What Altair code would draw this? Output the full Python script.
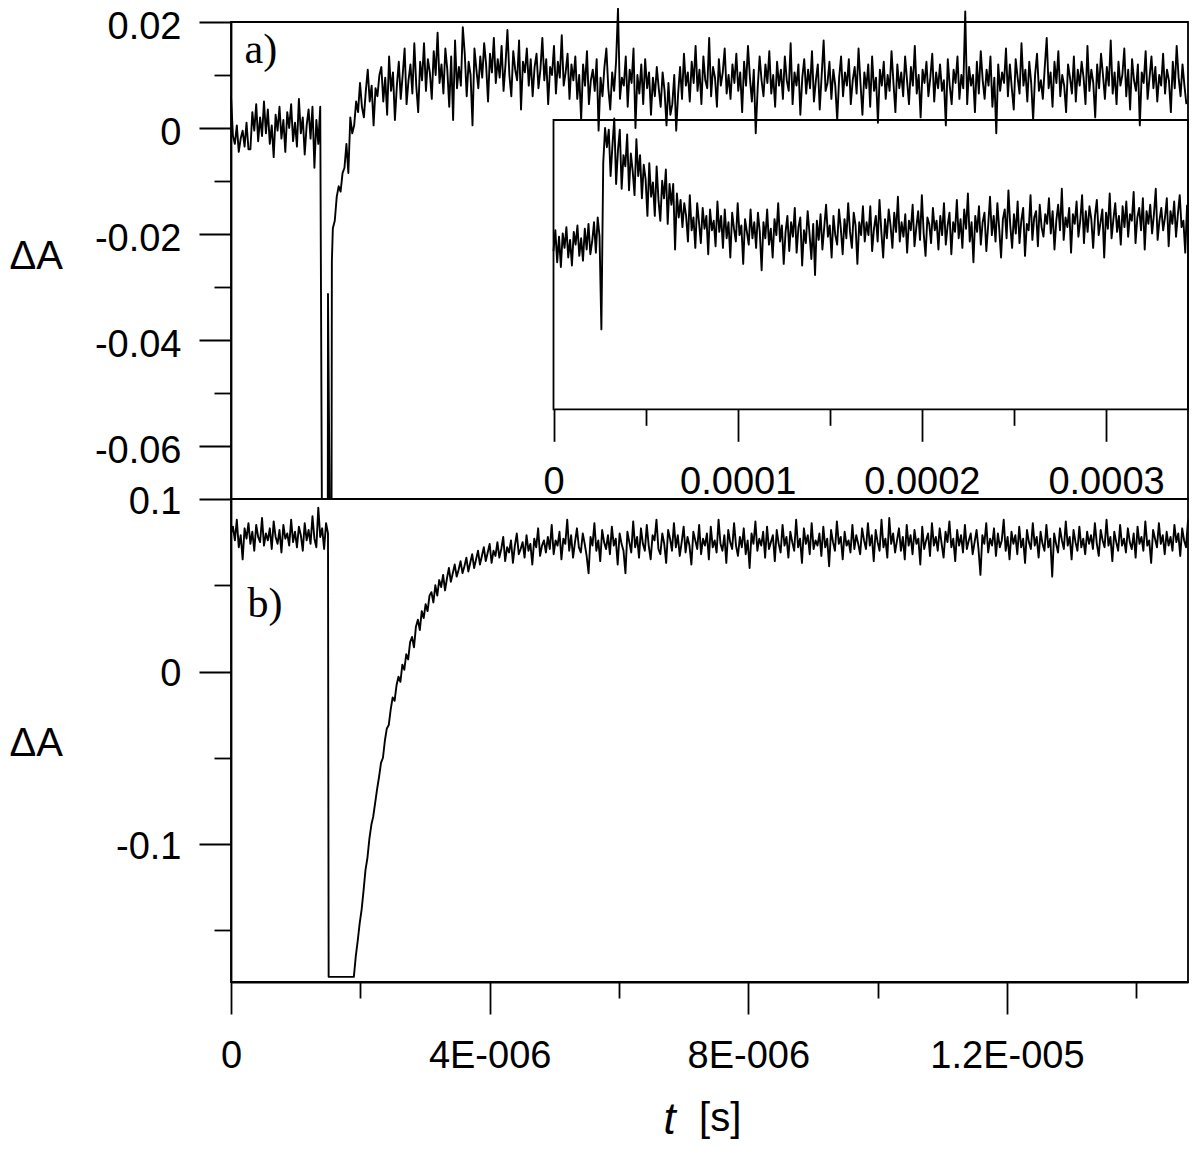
import json
import numpy as np
import pandas as pd
import altair as alt

# ---------------- data ----------------
DT = 3e-8          # sampling step of the two main traces [s]
X_MAX = 1.480e-5   # right end of the visible t axis [s]

# panel a) : ΔA x 10^4
a_pre_dA_e4 = [60, -15, -30, 5, -45, -20, -5, -35, 10, -40,
               -40, 30, -5, 45, -25, 20, -15, 50, -10, 35,
               -30, 5, -55, 25, -5, 40, -20, 15, -45, 30,
               0, 45, -25, 10, -35, 55, -10, 20, -50, 5,
               35, -20, 40, -75, 15, -30, 40]
a_spike_t = [1.405e-6, 1.497e-6, 1.500e-6, 1.525e-6, 1.555e-6, 1.560e-6]
a_spike_dA_e4 = [-700, -700, -313, -700, -700, -252]
a_post_t0 = 1.575e-6
a_post_dA_e4 = [
    -189, -175, -130, -110, -120, -85, -75, -30, -85, 20, -10, 5, 50, 30, 85, 40, 20, 70, 110, 50, 80, 5, 75, 60, 100,
    115, 50, 95, 25, 135, 70, 105, 15, 80, 125, 55, 100, 150, 45, 90, 120, 65, 160, 80, 30,
    125, 90, 160, 70, 130, 105, 55, 145, 100, 180, 85, 120, 65, 150, 110, 40, 135, 15, 165, 75,
    115, 80, 190, 140, 60, 125, 100, 5, 150, 110, 75, 135, 95, 160, 120, 50, 140, 105, 170, 85,
    130, 95, 155, 70, 120, 185, 100, 60, 145, 110, 90, 165, 35, 125, 105, 150, 80, 130, 60, 115,
    140, 75, 110, 170, 90, 130, 45, 115, 100, 155, 65, 125, 95, 175, 80, 105, 140, 55, 120, 90,
    135, 55, 100, 15, 120, 80, 145, 45, 90, 110, 70, 130, -5, 95, 60, 115, 150, 75, 35, 105,
    70, 125, 225, 55, 95, 80, 135, 40, 110, 85, 150, 0, 100, 65, 120, 45, 130, 75, 105, 25,
    95, 60, 115, 75, 40, 105, 70, 5, 85, 25, 45, 100, -5, 65, 115, 55, 140, 80, 105, 50,
    125, 85, 155, 70, 110, 45, 135, 90, 75, 170, 60, 115, 95, 40, 130, 80, 105, 150, 65, 100,
    55, 120, 85, 140, 70, 105, 30, 125, 80, 155, 95, 50, 110, -10, 75, 135, 90, 60, 120, 85,
    145, 65, 100, 40, 125, 80, 110, 55, 135, 90, 70, 160, 45, 105, 80, 120, 25, 95, 130, 65,
    110, 75, 145, 50, 90, 120, 35, 100, 165, 70, 85, 125, 55, 110, 80, 15, 95, 135, 60, 105,
    80, 130, 45, 90, 115, 65, 150, 85, 25, 105, 75, 120, 40, 135, 70, 95, 10, 110, 80, 125,
    55, 100, 70, 145, 85, 30, 120, 75, 105, 60, 135, 90, 45, 115, 80, 155, 65, 100, 20, 110,
    85, 125, 60, 95, 140, 50, 105, 75, 120, 70, 90, 5, 130, 80, 45, 110, 85, 135, 55, 100,
    75, 220, 45, 115, 80, 100, 30, 125, 65, 145, 90, 55, 110, 80, 135, 40, 95, -10, 120, 70,
    105, 85, 150, 60, 120, 75, 35, 130, 95, 65, 160, 80, 110, 50, 125, 85, 15, 100, 140, 70,
    90, 55, 115, 170, 75, 105, 40, 125, 85, 145, 60, 100, 80, 30, 120, 95, 65, 135, 50, 110,
    80, 125, 95, 45, 155, 70, 110, 85, 20, 120, 75, 140, 100, 55, 115, 80, 165, 65, 105, 45,
    125, 80, 100, 150, 60, 110, 35, 130, 90, 70, 120, 5, 105, 85, 145, 55, 95, 135, 75, 115,
    50, 100, 80, 140, 65, 110, 90, 30, 125, 75, 155, 95, 60, 120, 80, 45, 105, 130, 70, 90,
    110]

# panel b) : ΔA x 10^3
b_pre_dA_e3 = [80, 84, 76, 88, 72, 79, 65, 83, 77, 86,
               74, 81, 70, 85, 78, 75, 89, 73, 80, 76,
               83, 71, 87, 78, 74, 82, 69, 85, 77, 80,
               73, 88, 75, 81, 72, 84, 79, 70, 86, 76,
               82, 74, 90, 77, 72, 95, 78, 83, 71, 86, 80]
b_drop_t = [1.51e-6, 1.88e-6]
b_drop_dA_e3 = [-177, -177]
b_post_t0 = 1.90e-6
b_post_dA_e3 = [
    -177, -165, -156, -146, -138, -127, -115, -108, -97, -89,
    -84, -76, -68, -61, -53, -50, -40, -33, -31, -22,
    -15, -17, -8, -3, -6, 4, 1, 10, 7, 17,
    20, 14, 26, 30, 24, 35, 31, 39, 35, 44,
    46, 40, 50, 44, 53, 49, 56, 47, 54, 60,
    52, 57, 62, 55, 59, 64, 57, 61, 66, 58,
    63, 68, 60, 65, 70, 62, 67, 72, 64, 69,
    74, 63, 70, 67, 75, 66, 71, 78, 64, 72,
    69, 76, 63, 73, 80, 68, 71, 75, 66, 79,
    70, 74, 62, 77, 72, 83, 67, 73, 76, 69,
    78, 71, 85, 68, 76, 73, 81, 65, 77, 74, 88, 70, 79, 66, 75, 83, 72, 69, 80, 74,
    67, 57, 78, 73, 86, 70, 76, 64, 82, 75, 71, 79, 68, 84, 73, 77, 62, 80, 74, 70,
    57, 81, 75, 69, 87, 72, 78, 66, 83, 74, 70, 85, 73, 65, 79, 76, 88, 71, 68, 80,
    74, 63, 82, 77, 70, 86, 72, 79, 67, 75, 84, 69, 78, 73, 62, 81, 76, 71, 85, 68,
    77, 73, 80, 65, 84, 72, 76, 69, 88, 74, 70, 79, 63, 82, 75, 71, 86, 73, 67, 78,
    72, 83, 68, 76, 60, 80, 74, 87, 70, 77, 73, 81, 66, 84, 71, 75, 79, 64, 82, 74,
    69, 85, 73, 78, 66, 81, 75, 70, 88, 72, 77, 63, 83, 74, 79, 68, 86, 71, 76, 73,
    80, 67, 84, 72, 77, 61, 82, 75, 70, 87, 74, 78, 65, 81, 73, 76, 69, 85, 71, 79,
    74, 68, 83, 76, 71, 86, 73, 79, 64, 82, 75, 70, 88, 72, 77, 66, 89, 74, 80, 69,
    76, 83, 70, 78, 65, 85, 73, 79, 68, 82, 74, 77, 62, 84, 71, 76, 80, 67, 86, 73,
    78, 70, 83, 74, 66, 81, 75, 87, 72, 77, 64, 82, 73, 79, 69, 85, 71, 76, 80, 68,
    75, 82, 71, 56, 79, 74, 86, 69, 77, 73, 83, 67, 80, 72, 76, 88, 70, 78, 65, 81,
    74, 79, 68, 84, 72, 77, 63, 82, 75, 71, 86, 73, 78, 66, 81, 74, 70, 85, 72, 77,
    55, 80, 74, 69, 83, 76, 71, 87, 73, 78, 65, 82, 75, 70, 84, 72, 77, 68, 81, 74,
    79, 71, 86, 74, 67, 82, 76, 72, 88, 73, 78, 64, 81, 75, 70, 85, 73, 77, 69, 83,
    75, 71, 80, 66, 84, 74, 78, 70, 87, 73, 76, 63, 82, 77, 72, 86, 74, 79, 68, 81,
    73, 78, 70, 85, 75, 80, 67, 83, 76, 72, 88, 74, 79, 70, 82]

# inset (long time scale), arbitrary ΔA-like units x 10^3
INSET_DT = 1e-6
inset_dA_e3 = [
    -5, 8, -12, 4, -15, 6, -3, 10, -9, 2, -14, 7, -1, 11, -8, 3, -11, 9, -4, 12, -7, 1, 13, -6, 16, 4,
    -54, 50, 72, 60,
    71, 42, 61, 78, 37, 58, 71, 34, 55, 48, 68, 33, 56, 45, 30, 65, 42, 55, 28, 49,
    40, 17, 50, 29, 38, 17, 48, 27, 14, 39, 28, 46, 12, 37, 24, 37, -4, 31, 16, 27,
    10, 25, 17, 1, 30, 8, 16, -3, 25, 13, 0, 22, 9, 17, -7, 21, 8, 14, -2, 26,
    7, 17, -3, 21, 3, 13, -9, 19, 9, 1, 25, 5, 11, -13, 15, 7, -1, 21, 3, 13,
    -3, 19, 7, -17, 13, 3, 21, -1, 9, -9, 15, 5, 25, 1, 11, -13, 7, 17, -5, 13,
    4, 22, -6, 10, 16, -14, 8, 0, 20, 6, -10, 12, -20, 14, 2, 18, -4, 10, 24, 4,
    11, -9, 17, 5, -1, 21, 9, -7, 15, 3, 25, 7, -3, 19, 11, -13, 13, 5, 23, 1,
    13, 5, 23, -5, 9, 17, 1, 27, 7, -9, 15, 3, 21, 11, -3, 19, 7, 29, 1, 13,
    4, 18, -6, 14, 8, 24, -2, 10, 20, 2, 30, 6, -8, 16, 12, 0, 22, 8, 14, -4,
    17, 5, 25, -1, 11, 19, -7, 13, 7, 27, 3, 15, -3, 21, 9, 31, 1, 13, -12, 17,
    7, 23, -1, 13, 19, -5, 11, 29, 5, 17, 1, 25, 9, -9, 15, 21, 3, 33, 11, -3,
    18, 6, 26, 0, 14, 22, -8, 12, 8, 30, 2, 16, 20, -2, 24, 10, 4, 18, 12, 28,
    6, 20, -4, 14, 24, 8, 34, 2, 16, 10, 22, -6, 18, 12, 26, 4, 14, 30, 0, 20,
    7, 23, 15, -3, 17, 27, 5, 13, 21, -9, 19, 9, 31, 3, 15, 25, 7, 17, -1, 23,
    10, 26, 4, 18, 14, 32, 0, 16, 22, 8, 28, -4, 20, 12, 24, 6, 18, 34, 2, 14,
    22, 8, 16, 28, -2, 20, 12, 26, 4, 18, 30, 10, 14, -6, 24, 16, 8, 22, 12, 20]
INSET_T_MAX = 3.445e-4
INSET_Y_DOMAIN = [-0.104, 0.077]

# axes: ticks and labels
a_y_domain = [-0.07, 0.02]
a_y_major = [-0.06, -0.04, -0.02, 0, 0.02]
a_y_major_labels = ["-0.06", "-0.04", "-0.02", "0", "0.02"]
a_y_minor = [-0.05, -0.03, -0.01, 0.01]
b_y_domain = [-0.18, 0.1]
b_y_major = [-0.1, 0, 0.1]
b_y_major_labels = ["-0.1", "0", "0.1"]
b_y_minor = [-0.15, -0.05, 0.05]
t_major = [0, 4e-6, 8e-6, 1.2e-5]
t_major_labels = ["0", "4E-006", "8E-006", "1.2E-005"]
t_minor = [2e-6, 6e-6, 1e-5, 1.4e-5]
inset_t_major = [0, 1e-4, 2e-4, 3e-4]
inset_t_major_labels = ["0", "0.0001", "0.0002", "0.0003"]
inset_t_minor = [5e-5, 1.5e-4, 2.5e-4]

panel_labels = ["a)", "b)"]
panel_label_t = [2.1e-7, 2.57e-7]
panel_label_dA = [0.01221, 0.0318]

# ---------------- tables ----------------
a_t = np.concatenate([np.arange(len(a_pre_dA_e4)) * DT, a_spike_t,
                      a_post_t0 + np.arange(len(a_post_dA_e4)) * DT])
a_v = np.concatenate([a_pre_dA_e4, a_spike_dA_e4, a_post_dA_e4]) / 1e4
df_a = pd.DataFrame({"t": a_t, "dA": a_v, "k": np.arange(len(a_t))})
df_a = df_a[df_a["t"] <= X_MAX]

b_t = np.concatenate([np.arange(len(b_pre_dA_e3)) * DT, b_drop_t,
                      b_post_t0 + np.arange(len(b_post_dA_e3)) * DT])
b_v = np.concatenate([b_pre_dA_e3, b_drop_dA_e3, b_post_dA_e3]) / 1e3
df_b = pd.DataFrame({"t": b_t, "dA": b_v, "k": np.arange(len(b_t))})
df_b = df_b[df_b["t"] <= X_MAX]

df_in = pd.DataFrame({"t": np.arange(len(inset_dA_e3)) * INSET_DT,
                      "dA": np.array(inset_dA_e3) / 1e3})
df_in = df_in[df_in["t"] <= INSET_T_MAX]
df_in_box = pd.DataFrame({"t0": [0.0], "t1": [INSET_T_MAX],
                          "lo": [INSET_Y_DOMAIN[0]], "hi": [INSET_Y_DOMAIN[1]]})
df_lab_a = pd.DataFrame({"t": [panel_label_t[0]], "dA": [panel_label_dA[0]], "s": [panel_labels[0]]})
df_lab_b = pd.DataFrame({"t": [panel_label_t[1]], "dA": [panel_label_dA[1]], "s": [panel_labels[1]]})
df_dummy = pd.DataFrame({"t": [0.0], "dA": [0.0]})

# ---------------- styling ----------------
W = 957
H_A = 477
H_B = 483
FONT = "Liberation Sans"
SERIF = "Liberation Serif"
LW = 1.8
TRACE_W = 1.9


def label_expr(values, labels):
    return f"{json.dumps(labels)}[indexof({json.dumps(values)}, datum.value)]"


def scale(domain, rng=None):
    if rng is None:
        return alt.Scale(domain=domain, nice=False, zero=False)
    return alt.Scale(domain=domain, range=rng, nice=False, zero=False)


def major_axis(orient, values, labels, pad, **kw):
    return alt.Axis(orient=orient, values=values, labelExpr=label_expr(values, labels),
                    tickSize=32, tickWidth=LW, tickColor="black",
                    domainColor="black", domainWidth=LW,
                    labelFont=FONT, labelFontSize=38, labelColor="black",
                    labelPadding=pad, labelOverlap=False, labelFlush=False,
                    grid=False, titleFont=FONT, titleColor="black",
                    titleFontWeight="normal", **kw)


def minor_axis(orient, values, size, **kw):
    return alt.Axis(orient=orient, values=values, labels=False, tickSize=size,
                    tickWidth=LW, tickColor="black", domain=False, grid=False,
                    titleFont=FONT, titleColor="black", titleFontWeight="normal", **kw)


T_DOM = [0, X_MAX]
INSET_X_RANGE = [322.5, W]
INSET_Y_RANGE = [387.3, 98]
INSET_OFFSET = 387.3 - H_A

# ---------------- panel a ----------------
a_line = alt.Chart(df_a).mark_line(color="black", strokeWidth=TRACE_W, strokeJoin="round").encode(
    x=alt.X("t:Q", scale=scale(T_DOM), axis=None),
    y=alt.Y("dA:Q", scale=scale(a_y_domain),
            axis=major_axis("left", a_y_major, a_y_major_labels, 18, labelOffset=5,
                            title="ΔA", titleFontSize=40, titleAngle=0,
                            titleAlign="left", titleBaseline="alphabetic",
                            titleX=-222, titleY=246)),
    order=alt.Order("k:Q"),
)
a_minor = alt.Chart(df_dummy).mark_point(opacity=0).encode(
    x=alt.X("t:Q", scale=scale(T_DOM), axis=None),
    y=alt.Y("dA:Q", scale=scale(a_y_domain), axis=minor_axis("left", a_y_minor, 17, title="")),
)
a_text = alt.Chart(df_lab_a).mark_text(font=SERIF, fontSize=42, align="left",
                                       baseline="alphabetic", color="black").encode(
    x=alt.X("t:Q", scale=scale(T_DOM), axis=None),
    y=alt.Y("dA:Q", scale=scale(a_y_domain), axis=None),
    text="s:N",
)
in_box = alt.Chart(df_in_box).mark_rect(fillOpacity=0, stroke="black", strokeWidth=LW).encode(
    x=alt.X("t0:Q", scale=scale([0, INSET_T_MAX], INSET_X_RANGE),
            axis=minor_axis("bottom", inset_t_minor, 16, offset=INSET_OFFSET, title="")),
    x2="t1:Q",
    y=alt.Y("lo:Q", scale=scale(INSET_Y_DOMAIN, INSET_Y_RANGE), axis=None),
    y2="hi:Q",
)
in_line = alt.Chart(df_in).mark_line(color="black", strokeWidth=TRACE_W, strokeJoin="round").encode(
    x=alt.X("t:Q", scale=scale([0, INSET_T_MAX], INSET_X_RANGE),
            axis=major_axis("bottom", inset_t_major, inset_t_major_labels, 22,
                            domain=False, offset=INSET_OFFSET, title="")),
    y=alt.Y("dA:Q", scale=scale(INSET_Y_DOMAIN, INSET_Y_RANGE), axis=None),
)
top = alt.layer(in_box, a_line, a_minor, a_text, in_line).resolve_scale(
    x="independent", y="independent").properties(width=W, height=H_A)

# ---------------- panel b ----------------
b_line = alt.Chart(df_b).mark_line(color="black", strokeWidth=TRACE_W, strokeJoin="round").encode(
    x=alt.X("t:Q", scale=scale(T_DOM),
            axis=major_axis("bottom", t_major, t_major_labels, 23,
                            title="[s]", titleFontSize=40, titleAlign="center",
                            titleBaseline="alphabetic", titleX=488.7, titleY=148)),
    y=alt.Y("dA:Q", scale=scale(b_y_domain),
            axis=major_axis("left", b_y_major, b_y_major_labels, 18, labelOffset=3,
                            title="ΔA", titleFontSize=40, titleAngle=0,
                            titleAlign="left", titleBaseline="alphabetic",
                            titleX=-222, titleY=256)),
    order=alt.Order("k:Q"),
)
b_minor = alt.Chart(df_dummy).mark_point(opacity=0).encode(
    x=alt.X("t:Q", scale=scale(T_DOM),
            axis=minor_axis("bottom", t_minor, 16, title="t", titleFontSize=44,
                            titleFontStyle="italic", titleAlign="center",
                            titleBaseline="alphabetic", titleX=438, titleY=151)),
    y=alt.Y("dA:Q", scale=scale(b_y_domain), axis=minor_axis("left", b_y_minor, 17, title="")),
)
b_text = alt.Chart(df_lab_b).mark_text(font=SERIF, fontSize=42, align="left",
                                       baseline="alphabetic", color="black").encode(
    x=alt.X("t:Q", scale=scale(T_DOM), axis=None),
    y=alt.Y("dA:Q", scale=scale(b_y_domain), axis=None),
    text="s:N",
)
bottom = alt.layer(b_line, b_minor, b_text).resolve_scale(
    x="independent", y="independent").properties(width=W, height=H_B)

chart = alt.vconcat(top, bottom, spacing=0, bounds="flush").properties(
    padding={"top": -2, "left": 0, "right": 0, "bottom": 0},
    background="white",
).configure_view(stroke="black", strokeWidth=LW)

chart.save("out.html", embed_options={"renderer": "svg", "actions": False})
